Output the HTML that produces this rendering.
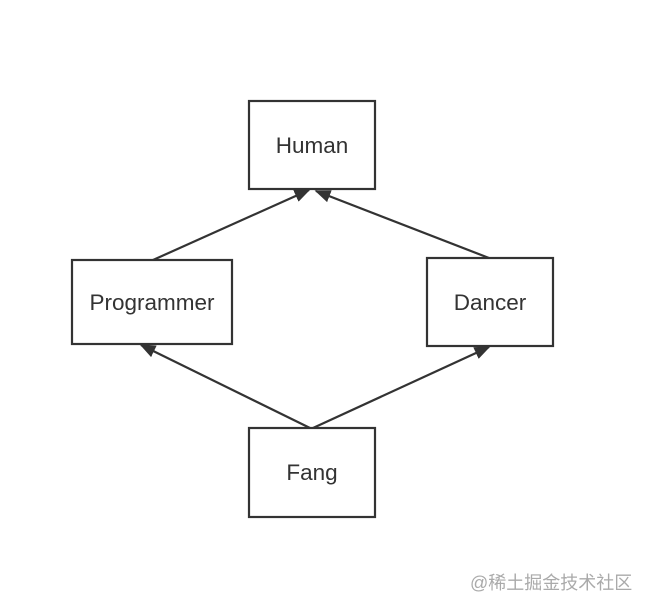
<!DOCTYPE html>
<html><head><meta charset="utf-8"><style>
html,body{margin:0;padding:0;background:#fff;}
body{width:649px;height:609px;position:relative;overflow:hidden;}
svg{position:absolute;left:0;top:0;}
.wm{position:absolute;left:470px;top:569px;font:18px "Liberation Sans","Noto Sans CJK SC",sans-serif;color:#aaa;letter-spacing:0px;}
</style></head><body>
<svg width="649" height="609" viewBox="0 0 649 609">
<defs>
<marker id="b" viewBox="0 0 10 10" refX="9" refY="5" markerWidth="16" markerHeight="16" markerUnits="userSpaceOnUse" orient="auto"><path d="M0,1 L10,5 L0,9 z" fill="#333"/></marker></defs>
<g fill="#fff" stroke="#333" stroke-width="2.2">
<rect x="249" y="101" width="126" height="88"/>
<rect x="72" y="260" width="160" height="84"/>
<rect x="427" y="258" width="126" height="88"/>
<rect x="249" y="428" width="126" height="89"/>
</g>
<g stroke="#333" stroke-width="2.2" fill="none">
<line x1="153" y1="260" x2="309" y2="190" marker-end="url(#b)"/>
<line x1="489" y1="258" x2="316" y2="191" marker-end="url(#b)"/>
<line x1="310" y1="428" x2="141" y2="345" marker-end="url(#b)"/>
<line x1="313" y1="428" x2="489" y2="347" marker-end="url(#b)"/>
</g>
<g font-family="Liberation Sans, sans-serif" font-size="22.5" fill="#333" text-anchor="middle">
<text x="312" y="153">Human</text>
<text x="152" y="310">Programmer</text>
<text x="490" y="310">Dancer</text>
<text x="312" y="480">Fang</text>
</g>
</svg>
<div class="wm">@稀土掘金技术社区</div>
</body></html>
